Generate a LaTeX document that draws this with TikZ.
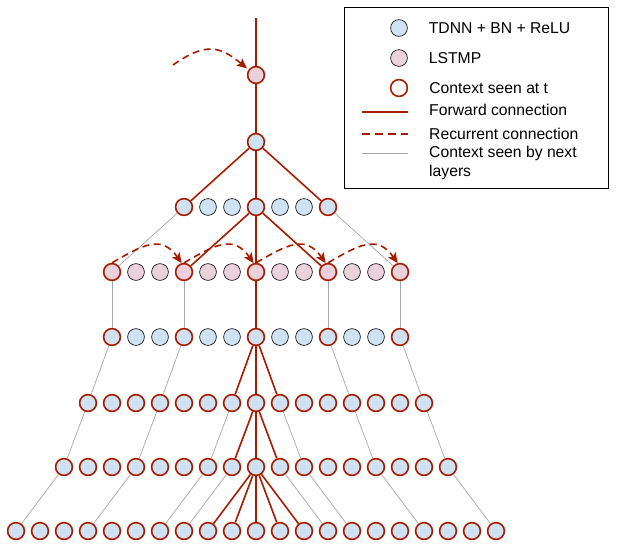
\documentclass[tikz,border=0pt]{standalone}
\usepackage{fontspec}
\setmainfont{Liberation Sans}
\usetikzlibrary{arrows, arrows.meta, positioning}
\definecolor{berry}{HTML}{A61C00}
\definecolor{tdnnblue}{HTML}{CFE2F3}
\definecolor{lstmpink}{HTML}{EAD1DC}
\definecolor{ctxgray}{HTML}{A6A6A6}

\begin{document}
\begin{tikzpicture}[>={Stealth[length=10pt, width=9pt, inset=2pt]}, x=1pt, y=-1pt]
	\tikzstyle{unit} = [circle, minimum size=16.8pt, inner sep=0pt]
	\tikzstyle{tdnn} = [unit, fill=tdnnblue]
	\tikzstyle{lstmp} = [unit, fill=lstmpink]
	\tikzstyle{seen} = [draw=berry, line width=1.6pt]
	\tikzstyle{plain} = [draw=black, line width=0.6pt]
	\tikzstyle{fwd} = [draw=berry, line width=1.6pt]
	\tikzstyle{rec} = [fwd, dash pattern=on 7pt off 4.5pt, ->]
	\tikzstyle{ctx} = [draw=ctxgray, line width=0.7pt]
	\tikzstyle{legtext} = [anchor=west, inner sep=0pt,
	font=\fontsize{15.7}{19}\selectfont, align=left]

	\useasboundingbox (0,0) rectangle (618,558);

	% layers seen at t
	\node[lstmp, seen] (out) at (256,75) {};
	\node[tdnn, seen] (top) at (256,142) {};
	\foreach \i in {-3,...,3} {
		\pgfmathtruncatemacro{\m}{mod(abs(\i),3)}
		\ifnum\m=0 \def\rim{seen}\else\def\rim{plain}\fi
		\node[tdnn, \rim] (a\i) at ({256+24*\i},207) {};
	}
	\foreach \i in {-6,...,6} {
		\pgfmathtruncatemacro{\m}{mod(abs(\i),3)}
		\ifnum\m=0 \def\rim{seen}\else\def\rim{plain}\fi
		\node[lstmp, \rim] (b\i) at ({256+24*\i},272) {};
		\node[tdnn, \rim] (c\i) at ({256+24*\i},337) {};
	}
	\foreach \i in {-7,...,7}
		\node[tdnn, seen] (d\i) at ({256+24*\i},403) {};
	\foreach \i in {-8,...,8}
		\node[tdnn, seen] (e\i) at ({256+24*\i},467) {};
	\foreach \i in {-10,...,10}
		\node[tdnn, seen] (f\i) at ({256+24*\i},531) {};

	% forward connections
	\coordinate (in) at (256,18);
	\path[fwd]
		(in) edge (out)
		(out) edge (top)
		(top) edge (a-3)
		(top) edge (a0)
		(top) edge (a3)
		(a0) edge (b-3)
		(a0) edge (b0)
		(a0) edge (b3)
		(b0) edge (c0)
		(c0) edge (d-1)
		(c0) edge (d0)
		(c0) edge (d1)
		(d0) edge (e-1)
		(d0) edge (e0)
		(d0) edge (e1)
	;
	\foreach \k in {-2,...,2}
		\draw[fwd] (e0) -- (f\k);

	% context of the next layers
	\foreach \u/\v in {a-3/b-6, a3/b6, b-6/c-6, b-3/c-3, b3/c3, b6/c6,
		c-6/d-7, c-3/d-4, c3/d4, c6/d7,
		d-7/e-8, d-4/e-5, d-1/e-2, d1/e2, d4/e5, d7/e8,
		e-8/f-10, e-5/f-7, e-2/f-4, e-1/f-3, e1/f3, e2/f4, e5/f7, e8/f10}
		\draw[ctx] (\u) -- (\v);

	% recurrent connections
	\coordinate (prev) at (173,65);
	\draw[rec, shorten >=2pt] (prev) to[out=35, in=140, looseness=1.3] (out.145);
	\foreach \u/\v in {b-6/b-3, b-3/b0, b0/b3, b3/b6}
		\draw[rec] (\u.north) to[out=30, in=125, looseness=1.3] (\v.105);

	% legend
	\draw[line width=0.8pt] (344,7) rectangle (608,188);
	\node[tdnn, plain] (keytdnn) at (399,28) {};
	\node[lstmp, plain] (keylstmp) at (399,58) {};
	\node[unit, seen, fill=white] (keyseen) at (399,88) {};
	\node[legtext, right=21pt of keytdnn] {TDNN + BN + ReLU};
	\node[legtext, right=21pt of keylstmp] {LSTMP};
	\node[legtext, right=21pt of keyseen] {Context seen at t};

	\coordinate (fa) at (362,112);
	\coordinate (fb) at (408,112);
	\coordinate (ra) at (362,134);
	\coordinate (rb) at (408,134);
	\coordinate (ca) at (362,153);
	\coordinate (cb) at (408,153);
	\draw[fwd] (fa) -- (fb);
	\draw[fwd, dash pattern=on 8pt off 5pt] (ra) -- (rb);
	\draw[ctx] (ca) -- (cb);
	\node[legtext, right=21pt of fb, yshift=2pt] {Forward connection};
	\node[legtext, right=21pt of rb] {Recurrent connection};
	\node[legtext, right=21pt of cb, yshift=-10pt] {Context seen by next\\layers};
\end{tikzpicture}
\end{document}
